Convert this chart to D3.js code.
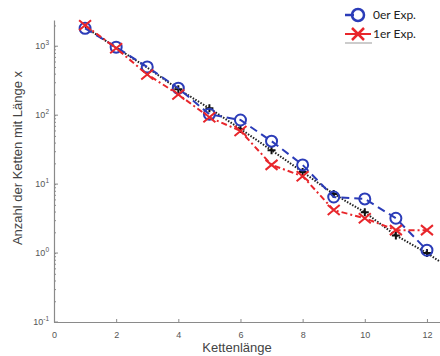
<!DOCTYPE html>
<html>
<head>
<meta charset="utf-8">
<script src="https://cdn.jsdelivr.net/npm/d3@7"></script>
<style>
  body { margin: 0; background: #fff; }
  svg { display: block; }
</style>
</head>
<body>
<div id="chart"></div>
<script>
var svgWidth = 440;
var svgHeight = 356;

// data
var lengths = [1, 2, 3, 4, 5, 6, 7, 8, 9, 10, 11, 12];
var exp0 = [1820, 970, 500, 246, 103, 85, 42, 19, 6.5, 6.1, 3.2, 1.1];
var exp1 = [2020, 935, 390, 200, 93, 59, 19, 13, 4.2, 3.2, 2.15, 2.15];
var fitX = [1, 2, 3, 4, 5, 6, 7, 8, 9, 10, 11, 12, 12.42];
var fitY = [1900, 950, 490, 238, 126, 63, 31, 15, 7.2, 3.9, 1.8, 1.0, 0.75];
var xTicks = [0, 2, 4, 6, 8, 10, 12];
var yExponents = [-1, 0, 1, 2, 3];
var legendLabels = ["0er Exp.", "1er Exp."];

var blue = "#2b3cb8";
var red = "#e8262b";
var axisGray = "#8a8a8a";
var textGray = "#555";

var svg = d3.select("#chart")
  .append("svg")
  .attr("width", svgWidth)
  .attr("height", svgHeight);

var x = d3.scaleLinear()
  .domain([0, 12.42])
  .range([54, 440]);

var y = d3.scaleLog()
  .domain([0.1, 2400])
  .range([322, 20]);

// axes: left and bottom only, ticks point inward
var bottomAxis = d3.axisBottom(x)
  .tickValues(xTicks)
  .tickSizeInner(-3)
  .tickSizeOuter(0)
  .tickPadding(10);

var xAxis = svg.append("g")
  .attr("transform", "translate(0, 322)")
  .call(bottomAxis);

xAxis.select(".domain").attr("stroke", axisGray).attr("stroke-width", 1.2);
xAxis.selectAll(".tick line").attr("stroke", axisGray);
xAxis.selectAll(".tick text")
  .attr("fill", textGray)
  .style("font-family", "Liberation Sans, Arial, sans-serif")
  .style("font-size", "9px");

// minor ticks for log axis
var minorVals = [];
for (var e = -1; e <= 3; e++) {
  for (var m = 1; m <= 9; m++) {
    var v = m * Math.pow(10, e);
    if (v >= 0.1 && v <= 2400) minorVals.push(v);
  }
}

var leftAxis = d3.axisLeft(y)
  .tickValues(minorVals)
  .tickFormat("")
  .tickSizeInner(-2)
  .tickSizeOuter(0);

var yAxis = svg.append("g")
  .attr("transform", "translate(54, 0)")
  .call(leftAxis);

yAxis.select(".domain").attr("stroke", axisGray).attr("stroke-width", 1.2);
yAxis.selectAll(".tick line").attr("stroke", axisGray);

// major ticks with 10^n labels
var majors = yAxis.selectAll(".major")
  .data(yExponents)
  .enter()
  .append("g")
  .attr("class", "major")
  .attr("transform", d => `translate(0, ${y(Math.pow(10, d))})`);

majors.append("line")
  .attr("x1", 0)
  .attr("x2", 4)
  .attr("stroke", axisGray);

var labels = majors.append("text")
  .attr("x", -5)
  .attr("y", 3)
  .attr("text-anchor", "end")
  .attr("fill", textGray)
  .style("font-family", "Liberation Sans, Arial, sans-serif")
  .style("font-size", "9px");

labels.append("tspan").text("10");
labels.append("tspan")
  .attr("dy", -4)
  .style("font-size", "6.5px")
  .text(d => d);

// axis titles
svg.append("text")
  .attr("x", 237)
  .attr("y", 352)
  .attr("text-anchor", "middle")
  .attr("fill", "#444")
  .style("font-family", "Liberation Sans, Arial, sans-serif")
  .style("font-size", "13px")
  .text("Kettenlänge");

svg.append("text")
  .attr("transform", "rotate(-90)")
  .attr("x", -158)
  .attr("y", 22)
  .attr("text-anchor", "middle")
  .attr("fill", "#444")
  .style("font-family", "Liberation Sans, Arial, sans-serif")
  .style("font-size", "13px")
  .text("Anzahl der Ketten mit Länge x");

// fit line, black dotted
var fitPts = fitX.map((d, i) => [d, fitY[i]]);
svg.append("path")
  .datum(fitPts)
  .attr("fill", "none")
  .attr("stroke", "#222")
  .attr("stroke-width", 2)
  .attr("stroke-dasharray", "1.5,1.5")
  .attr("d", d3.line().x(d => x(d[0])).y(d => y(d[1])));

// black plus markers of the fit (drawn underneath the experiments)
svg.selectAll(".plus")
  .data(fitPts.slice(3, lengths.length))
  .enter()
  .append("path")
  .attr("transform", d => `translate(${x(d[0])}, ${y(d[1])})`)
  .attr("d", "M-4,0L4,0M0,-4L0,4")
  .attr("stroke", "#111")
  .attr("stroke-width", 2);

// 0er Exp. blue dashed with circles
var pts0 = lengths.map((d, i) => [d, exp0[i]]);
svg.append("path")
  .datum(pts0)
  .attr("fill", "none")
  .attr("stroke", blue)
  .attr("stroke-width", 2)
  .attr("stroke-dasharray", "8,5")
  .attr("d", d3.line().x(d => x(d[0])).y(d => y(d[1])));

// 1er Exp. red dash-dot with crosses
var pts1 = lengths.map((d, i) => [d, exp1[i]]);
svg.append("path")
  .datum(pts1)
  .attr("fill", "none")
  .attr("stroke", red)
  .attr("stroke-width", 2)
  .attr("stroke-dasharray", "6,3,2,3")
  .attr("d", d3.line().x(d => x(d[0])).y(d => y(d[1])));

svg.selectAll(".circ")
  .data(pts0)
  .enter()
  .append("circle")
  .attr("cx", d => x(d[0]))
  .attr("cy", d => y(d[1]))
  .attr("r", 5.5)
  .attr("fill", "none")
  .attr("stroke", blue)
  .attr("stroke-width", 2);

svg.selectAll(".cross")
  .data(pts1)
  .enter()
  .append("path")
  .attr("transform", d => `translate(${x(d[0])}, ${y(d[1])})`)
  .attr("d", "M-6,-5L6,5M-6,5L6,-5")
  .attr("stroke", red)
  .attr("stroke-width", 2);

// legend
var legend = svg.append("g");

var leg0 = legend.append("g").attr("transform", "translate(358, 15)");
leg0.append("line")
  .attr("x1", -13).attr("x2", -4)
  .attr("stroke", blue).attr("stroke-width", 2.5);
leg0.append("circle")
  .attr("r", 6)
  .attr("fill", "none")
  .attr("stroke", blue)
  .attr("stroke-width", 2.5);

var leg1 = legend.append("g").attr("transform", "translate(358, 34)");
leg1.append("line")
  .attr("x1", -13).attr("x2", 13)
  .attr("stroke", red).attr("stroke-width", 2);
leg1.append("path")
  .attr("d", "M-6,-6L6,6M-6,6L6,-6")
  .attr("stroke", red)
  .attr("stroke-width", 2.5);

legend.append("line")
  .attr("x1", 345).attr("x2", 372)
  .attr("y1", 43).attr("y2", 43)
  .attr("stroke", "#999").attr("stroke-width", 1);

legend.selectAll(".legtext")
  .data(legendLabels)
  .enter()
  .append("text")
  .attr("x", 373)
  .attr("y", (d, i) => 19 + i * 19)
  .attr("fill", "#222")
  .style("font-family", "Lato, Open Sans, sans-serif")
  .style("font-size", "12px")
  .text(d => d);
</script>
</body>
</html>
